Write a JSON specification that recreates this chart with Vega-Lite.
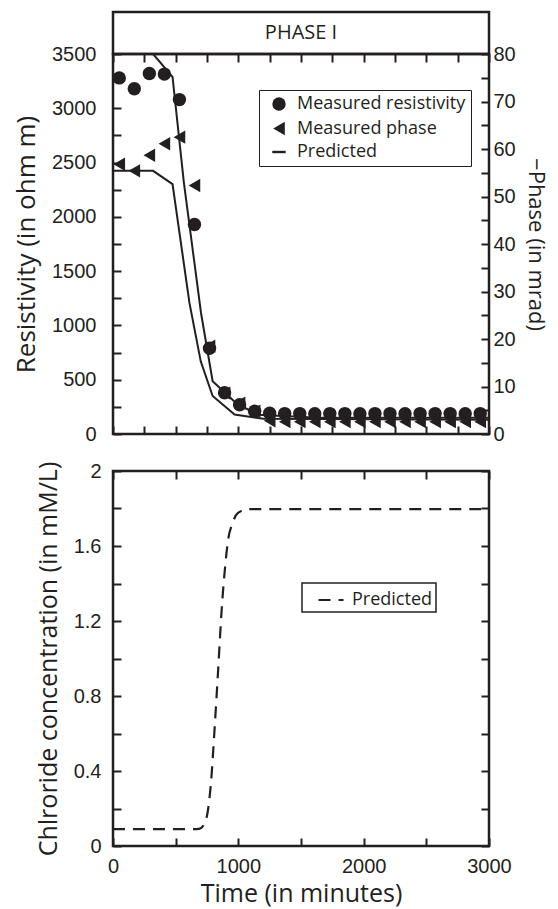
{
  "$schema": "https://vega.github.io/schema/vega-lite/v6.json",
  "background": "white",
  "padding": {"left": 12, "top": 10, "right": 2, "bottom": 2},
  "spacing": 13,
  "config": {
    "view": {"stroke": "#231f20", "strokeWidth": 2.5},
    "axis": {"domain": false, "grid": false, "ticks": true, "tickColor": "#231f20", "tickWidth": 2, "tickSize": -8, "minExtent": 0, "labelFont": "Liberation Sans", "labelFontSize": 20, "labelColor": "#231f20", "labelOverlap": false, "labelFlush": false, "titleFont": "Open Sans", "titleFontWeight": "normal", "titleColor": "#231f20"}
  },
  "datasets": {
    "measured": [
      {"t": 50, "resistivity": 3280, "phase": 56.8},
      {"t": 170, "resistivity": 3180, "phase": 55.4},
      {"t": 290, "resistivity": 3320, "phase": 58.7},
      {"t": 410, "resistivity": 3315, "phase": 61.1},
      {"t": 530, "resistivity": 3080, "phase": 62.5},
      {"t": 650, "resistivity": 1930, "phase": 52.3},
      {"t": 770, "resistivity": 790, "phase": 18.5},
      {"t": 890, "resistivity": 380, "phase": 8.6},
      {"t": 1010, "resistivity": 270, "phase": 6.5},
      {"t": 1130, "resistivity": 210, "phase": 4.8},
      {"t": 1250, "resistivity": 192, "phase": 2.8},
      {"t": 1370, "resistivity": 188, "phase": 2.6},
      {"t": 1490, "resistivity": 188, "phase": 2.6},
      {"t": 1610, "resistivity": 187, "phase": 2.6},
      {"t": 1730, "resistivity": 188, "phase": 2.6},
      {"t": 1850, "resistivity": 188, "phase": 2.6},
      {"t": 1970, "resistivity": 187, "phase": 2.6},
      {"t": 2090, "resistivity": 188, "phase": 2.6},
      {"t": 2210, "resistivity": 188, "phase": 2.6},
      {"t": 2330, "resistivity": 187, "phase": 2.6},
      {"t": 2450, "resistivity": 188, "phase": 2.6},
      {"t": 2570, "resistivity": 188, "phase": 2.6},
      {"t": 2690, "resistivity": 188, "phase": 2.6},
      {"t": 2810, "resistivity": 187, "phase": 2.6},
      {"t": 2930, "resistivity": 188, "phase": 2.6}
    ],
    "pred_res": [
      {"t": 0, "v": 3500}, {"t": 320, "v": 3500}, {"t": 475, "v": 3290}, {"t": 565, "v": 2320},
      {"t": 702, "v": 1117}, {"t": 795, "v": 487}, {"t": 981, "v": 286}, {"t": 1154, "v": 178},
      {"t": 1600, "v": 152}, {"t": 3000, "v": 150}
    ],
    "pred_phase": [
      {"t": 0, "v": 55.4}, {"t": 320, "v": 55.4}, {"t": 475, "v": 52.6}, {"t": 610, "v": 27.6},
      {"t": 700, "v": 15.3}, {"t": 795, "v": 8.0}, {"t": 970, "v": 4.1}, {"t": 1200, "v": 3.2},
      {"t": 3000, "v": 3.0}
    ],
    "chloride": [
      {"t": 0, "c": 0.09}, {"t": 670, "c": 0.09}, {"t": 700, "c": 0.095}, {"t": 725, "c": 0.115},
      {"t": 755, "c": 0.18}, {"t": 782, "c": 0.34}, {"t": 810, "c": 0.62}, {"t": 839, "c": 0.94},
      {"t": 867, "c": 1.26}, {"t": 896, "c": 1.5}, {"t": 918, "c": 1.63}, {"t": 953, "c": 1.72},
      {"t": 995, "c": 1.775}, {"t": 1080, "c": 1.797}, {"t": 3000, "c": 1.797}
    ],
    "header": [{"label": "PHASE I", "px": 0.5, "py": 0.5}]
  },
  "vconcat": [
    {
      "spacing": 0,
      "bounds": "flush",
      "vconcat": [
        {
          "width": 376,
          "height": 42,
          "data": {"name": "header"},
          "mark": {"type": "text", "font": "Open Sans", "fontSize": 20, "color": "#231f20"},
          "encoding": {
            "x": {"field": "px", "type": "quantitative", "scale": {"domain": [0, 1]}, "axis": null},
            "y": {"field": "py", "type": "quantitative", "scale": {"domain": [0, 1]}, "axis": null},
            "text": {"field": "label", "type": "nominal"}
          }
        },
        {
          "width": 376,
          "height": 380,
          "layer": [
            {
              "data": {"name": "measured"},
              "mark": {"type": "point", "filled": true, "size": 180, "color": "#231f20", "opacity": 1},
              "encoding": {
                "x": {"field": "t", "type": "quantitative", "scale": {"domain": [0, 3000], "nice": false},
                      "axis": {"orient": "bottom", "values": [0,250,500,750,1000,1250,1500,1750,2000,2250,2500,2750,3000], "labels": false, "title": null}},
                "y": {"field": "resistivity", "type": "quantitative", "scale": {"domain": [0, 3500], "nice": false},
                      "axis": {"orient": "left", "values": [0,250,500,750,1000,1250,1500,1750,2000,2250,2500,2750,3000,3250,3500], "format": "d",
                               "labelExpr": "datum.value % 500 == 0 ? datum.label : ''", "labelPadding": 25,
                               "title": "Resistivity (in ohm m)", "titleFontSize": 26, "titlePadding": 12}},
                "shape": {"datum": "Measured resistivity", "type": "nominal",
                          "scale": {"domain": ["Measured resistivity", "Measured phase", "Predicted"], "range": ["circle", "triangle-left", "M-1,-0.18L1,-0.18L1,0.18L-1,0.18Z"]},
                          "legend": {"title": null, "orient": "none", "legendX": 146, "legendY": 78, "strokeColor": "#231f20", "fillColor": "white", "padding": 5,
                                     "labelFont": "Open Sans", "labelFontSize": 18, "labelColor": "#231f20", "labelLimit": 400, "symbolSize": 180, "rowPadding": 4.5, "labelOffset": 9, "symbolOffset": 6,
                                     "symbolFillColor": "#231f20",
                                     "encode": {"symbols": {"update": {"fill": {"value": "#231f20"}, "opacity": {"value": 1}}},
                                                "legend": {"update": {"strokeWidth": {"value": 1.5}}}}}}
              }
            },
            {
              "data": {"name": "pred_res"},
              "mark": {"type": "line", "color": "#231f20", "strokeWidth": 2},
              "encoding": {
                "x": {"field": "t", "type": "quantitative", "scale": {"domain": [0, 3000], "nice": false},
                      "axis": {"orient": "top", "values": [0,250,500,750,1000,1250,1500,1750,2000,2250,2500,2750,3000], "labels": false, "title": null}},
                "y": {"field": "v", "type": "quantitative", "scale": {"domain": [0, 3500], "nice": false}, "axis": null}
              }
            },
            {
              "data": {"name": "measured"},
              "mark": {"type": "point", "filled": true, "size": 180, "color": "#231f20", "opacity": 1},
              "encoding": {
                "x": {"field": "t", "type": "quantitative", "axis": null},
                "y": {"field": "phase", "type": "quantitative", "scale": {"domain": [0, 80], "nice": false},
                      "axis": {"orient": "right", "values": [0,5,10,15,20,25,30,35,40,45,50,55,60,65,70,75,80], "format": "d",
                               "labelExpr": "datum.value % 10 == 0 ? datum.label : ''", "labelPadding": 12,
                               "title": "−Phase (in mrad)", "titleFontSize": 22, "titlePadding": 8}},
                "shape": {"datum": "Measured phase", "type": "nominal",
                          "scale": {"domain": ["Measured resistivity", "Measured phase", "Predicted"], "range": ["circle", "triangle-left", "M-1,-0.18L1,-0.18L1,0.18L-1,0.18Z"]},
                          "legend": {"title": null, "orient": "none", "legendX": 146, "legendY": 78, "strokeColor": "#231f20", "fillColor": "white", "padding": 5,
                                     "labelFont": "Open Sans", "labelFontSize": 18, "labelColor": "#231f20", "labelLimit": 400, "symbolSize": 180, "rowPadding": 4.5, "labelOffset": 9, "symbolOffset": 6,
                                     "symbolFillColor": "#231f20",
                                     "encode": {"symbols": {"update": {"fill": {"value": "#231f20"}, "opacity": {"value": 1}}},
                                                "legend": {"update": {"strokeWidth": {"value": 1.5}}}}}}
              }
            },
            {
              "data": {"name": "pred_phase"},
              "mark": {"type": "line", "color": "#231f20", "strokeWidth": 2},
              "encoding": {
                "x": {"field": "t", "type": "quantitative", "axis": null},
                "y": {"field": "v", "type": "quantitative", "scale": {"domain": [0, 80], "nice": false}, "axis": null}
              }
            }
          ],
          "resolve": {"scale": {"y": "independent"}, "axis": {"x": "independent", "y": "independent"}}
        }
      ]
    },
    {
      "width": 376,
      "height": 375,
      "data": {"name": "chloride"},
      "layer": [
        {
          "mark": {"type": "line", "color": "#231f20", "strokeWidth": 2.2, "interpolate": "monotone"},
          "encoding": {
            "x": {"field": "t", "type": "quantitative", "scale": {"domain": [0, 3000], "nice": false},
                  "axis": {"orient": "bottom", "values": [0,500,1000,1500,2000,2500,3000], "format": "d",
                           "labelExpr": "datum.value % 1000 == 0 ? datum.label : ''", "labelPadding": 18,
                           "title": "Time (in minutes)", "titleFontSize": 25, "titlePadding": 5}},
            "y": {"field": "c", "type": "quantitative", "scale": {"domain": [0, 2], "nice": false},
                  "axis": {"orient": "left", "values": [0,0.2,0.4,0.6,0.8,1,1.2,1.4,1.6,1.8,2], "format": "~g",
                           "labelExpr": "round(datum.value*10) % 4 == 0 ? datum.label : ''", "labelPadding": 20,
                           "title": "Chlroride concentration (in mM/L)", "titleFontSize": 25, "titlePadding": 12}},
            "strokeDash": {"datum": "Predicted", "type": "nominal", "scale": {"domain": ["Predicted"], "range": [[12, 8]]},
                           "legend": {"title": null, "orient": "none", "legendX": 189, "legendY": 571, "strokeColor": "#231f20", "fillColor": "white", "padding": 3,
                                      "labelFont": "Open Sans", "labelFontSize": 18, "labelColor": "#231f20", "symbolType": "stroke", "symbolSize": 625,
                                      "symbolStrokeWidth": 2.2, "symbolStrokeColor": "#231f20", "labelOffset": 7, "symbolOffset": 12,
                                      "encode": {"legend": {"update": {"strokeWidth": {"value": 1.5}}}}}}
          }
        },
        {
          "mark": {"type": "line", "opacity": 0},
          "encoding": {
            "x": {"field": "t", "type": "quantitative", "scale": {"domain": [0, 3000], "nice": false},
                  "axis": {"orient": "top", "values": [0,500,1000,1500,2000,2500,3000], "labels": false, "title": null}},
            "y": {"field": "c", "type": "quantitative", "scale": {"domain": [0, 2], "nice": false},
                  "axis": {"orient": "right", "values": [0,0.2,0.4,0.6,0.8,1,1.2,1.4,1.6,1.8,2], "labels": false, "title": null}}
          }
        }
      ],
      "resolve": {"axis": {"x": "independent", "y": "independent"}}
    }
  ]
}
